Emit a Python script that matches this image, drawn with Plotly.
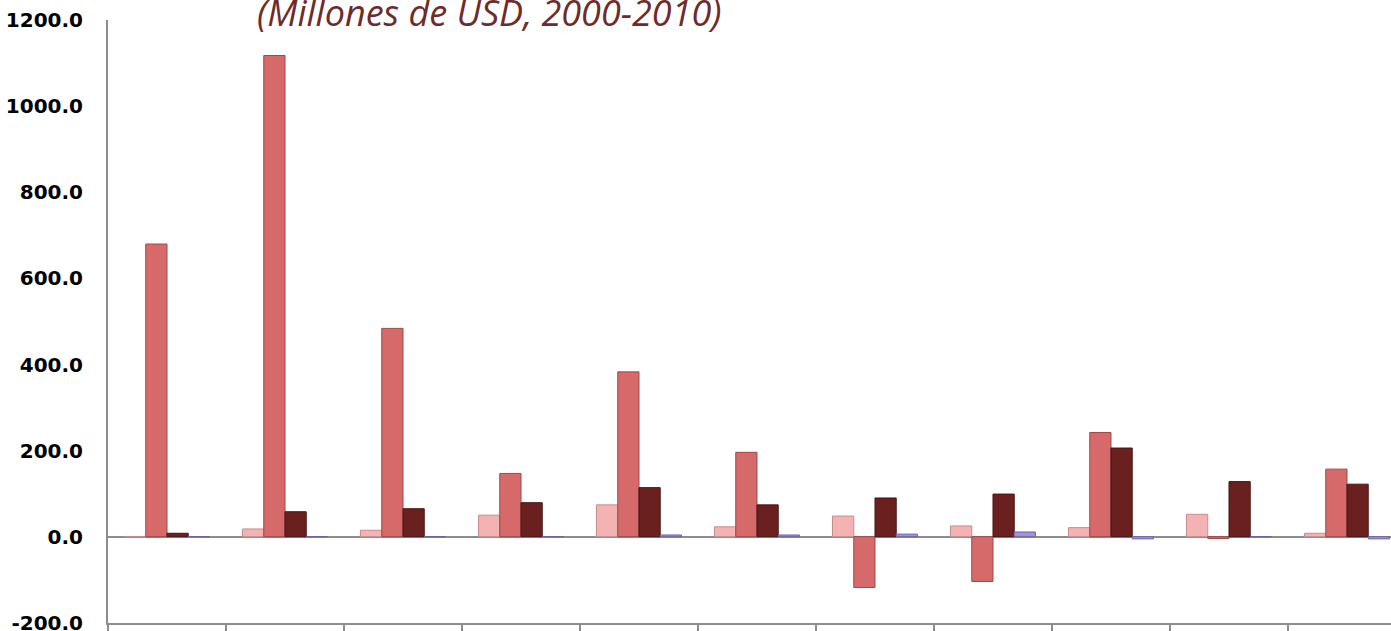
import plotly.graph_objects as go

years = ["2000", "2001", "2002", "2003", "2004", "2005", "2006", "2007", "2008", "2009", "2010"]
serie_1 = [0, 18, 15, 50, 74, 23, 48, 25, 21, 52, 8]
serie_2 = [680, 1118, 484, 147, 383, 196, -118, -104, 242, -4, 157]
serie_3 = [8, 58, 65, 79, 114, 74, 90, 99, 206, 128, 122]
serie_4 = [0, 0, 0, 0, 4, 4, 6, 11, -5, 0, -5]

y_ticks = [-200, 0, 200, 400, 600, 800, 1000, 1200]
y_labels = ["-200.0", "0.0", "200.0", "400.0", "600.0", "800.0", "1000.0", "1200.0"]
title_text = "(Millones de USD, 2000-2010)"

x = list(range(len(years)))

series = [
    ("Serie 1", serie_1, "#F4B3B3", "#C98C8C"),
    ("Serie 2", serie_2, "#D66A6A", "#9E4848"),
    ("Serie 3", serie_3, "#6B2020", "#4A1414"),
    ("Serie 4", serie_4, "#A094D8", "#6E62A8"),
]

fig = go.Figure()
for name, vals, col, line in series:
    fig.add_trace(go.Bar(
        x=x, y=vals, name=name,
        marker=dict(color=col, line=dict(color=line, width=1)),
        showlegend=False,
    ))

fig.update_layout(
    barmode="group",
    bargap=0.28,
    bargroupgap=0,
    width=1391, height=631,
    margin=dict(l=108, r=0, t=20, b=8, pad=0, autoexpand=False),
    paper_bgcolor="white",
    plot_bgcolor="white",
    xaxis=dict(
        range=[-0.5, 10.373],
        automargin=False,
        tickmode="array",
        tickvals=[i - 0.5 for i in range(len(years) + 1)],
        ticktext=["" for _ in range(len(years) + 1)],
        showticklabels=False,
        ticks="outside", ticklen=10, tickwidth=2, tickcolor="#8C8C8C",
        showline=True, linecolor="#8C8C8C", linewidth=2,
        showgrid=False, zeroline=False,
    ),
    yaxis=dict(
        range=[-200.5, 1200.5],
        automargin=False,
        tickmode="array",
        tickvals=y_ticks,
        ticktext=y_labels,
        ticks="",
        ticklabelstandoff=19,
        ticklabeloverflow="allow",
        tickfont=dict(family="DejaVu Sans", size=20, color="black", weight="bold"),
        showline=True, linecolor="#8C8C8C", linewidth=2,
        showgrid=False,
        zeroline=True, zerolinecolor="#8C8C8C", zerolinewidth=2,
    ),
    annotations=[dict(
        text=title_text,
        xref="paper", yref="paper",
        x=(490 - 108) / (1391 - 108), y=1.0,
        xanchor="center", yanchor="bottom",
        yshift=-19,
        showarrow=False,
        font=dict(family="Open Sans", size=36, color="#6E2B2B", style="italic"),
    )],
)

fig.write_html(
    "out.html",
    config={"displayModeBar": False},
    post_script="document.body.style.margin='0';document.body.style.overflow='hidden';",
)
